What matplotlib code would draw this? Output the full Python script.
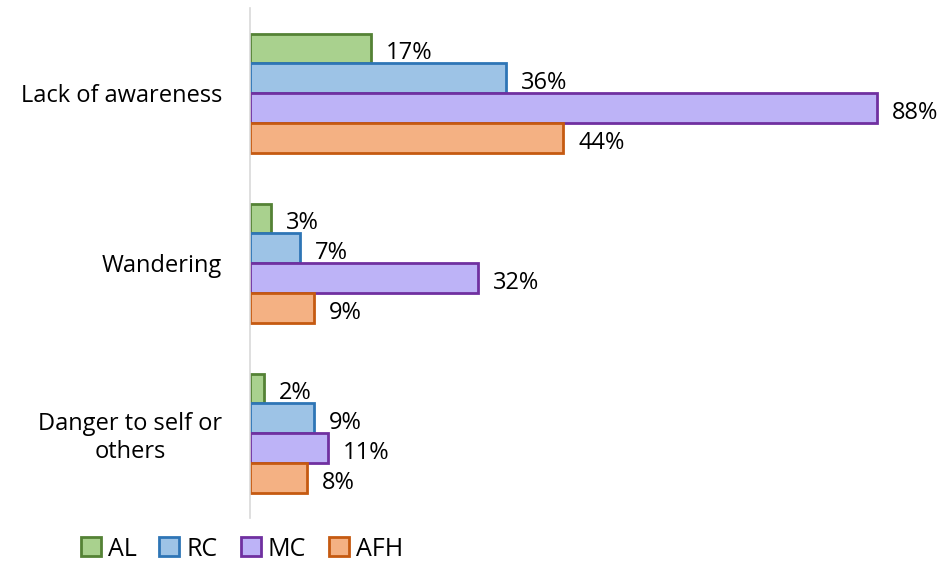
import matplotlib.pyplot as plt
import numpy as np

plt.rcParams['font.family'] = ['Open Sans', 'DejaVu Sans']

categories = ['Lack of awareness', 'Wandering', 'Danger to self or\nothers']
series = ['AL', 'RC', 'MC', 'AFH']
values = {
    'AL': [17, 3, 2],
    'RC': [36, 7, 9],
    'MC': [88, 32, 11],
    'AFH': [44, 9, 8],
}
fills = {'AL': '#A9D18E', 'RC': '#9DC3E6', 'MC': '#BDB3F7', 'AFH': '#F4B183'}
edges = {'AL': '#548235', 'RC': '#2E75B6', 'MC': '#7030A0', 'AFH': '#C55A11'}

fig = plt.figure(figsize=(9.42, 5.78), dpi=100)
ax = fig.add_axes([250 / 942, 1 - 518 / 578, 680 / 942, 510 / 578])

y = np.arange(len(categories))
h = 0.175
for i, s in enumerate(series):
    pos = y + (i - 1.5) * h
    ax.barh(pos, values[s], height=h, color=fills[s], edgecolor=edges[s],
            linewidth=2, label=s)
    for p, v in zip(pos, values[s]):
        ax.text(v + 2.1, p + 0.03, f'{v}%', va='center', ha='left', fontsize=17)

ax.set_ylim(2.5, -0.5)
ax.set_xlim(0, 95.5)
ax.set_yticks(y)
ax.set_yticklabels(categories, fontsize=17, multialignment='center')
ax.tick_params(axis='y', length=0, pad=20)
ax.set_xticks([])
for sp in ['top', 'right', 'bottom']:
    ax.spines[sp].set_visible(False)
ax.spines['left'].set_color('#D9D9D9')
ax.spines['left'].set_linewidth(1.2)

fig.legend(loc='lower left', bbox_to_anchor=(58 / 942, -6 / 578), ncol=4,
           frameon=False, fontsize=18, handlelength=0.8, handleheight=0.8,
           handletextpad=0.3, columnspacing=0.9)

fig.savefig('out.png', dpi=100)
